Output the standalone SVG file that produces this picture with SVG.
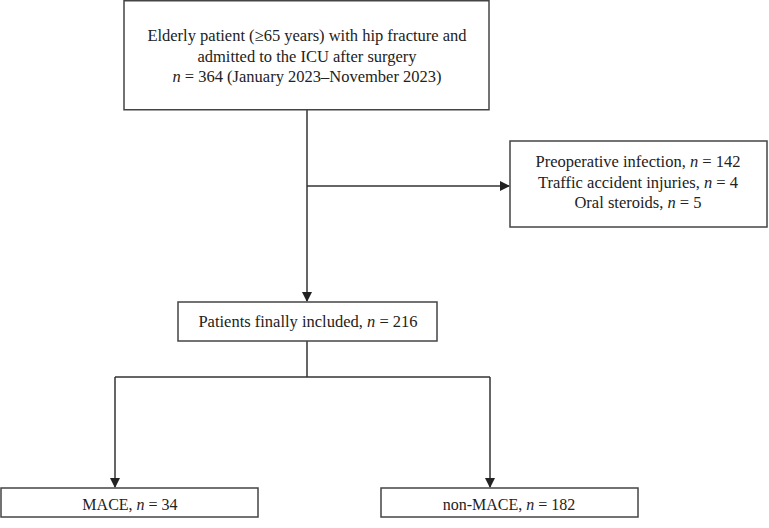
<svg xmlns="http://www.w3.org/2000/svg" width="769" height="528" viewBox="0 0 769 528">
<defs>
<marker id="arr" markerWidth="10" markerHeight="10" refX="9" refY="5" orient="auto" markerUnits="userSpaceOnUse"><path d="M0,0 L10,5 L0,10 Z" fill="#222"/></marker>
<style>
.box{fill:#fff;stroke:#444;stroke-width:1.5}
.ln{fill:none;stroke:#333;stroke-width:1.5}
text{font-family:"Liberation Serif","Times New Roman",serif;font-size:16.5px;fill:#222;text-anchor:middle}
.s{font-size:16px}
.i{font-style:italic}
</style>
</defs>
<rect width="769" height="528" fill="#fff"/>
<g id="connectors">
<path class="ln" d="M307,110 V301" marker-end="url(#arr)"/>
<path class="ln" d="M307,186 H509" marker-end="url(#arr)"/>
<path class="ln" d="M307,341 V377"/>
<path class="ln" d="M115,377 H490"/>
<path class="ln" d="M115,377 V487" marker-end="url(#arr)"/>
<path class="ln" d="M490,377 V487" marker-end="url(#arr)"/>
</g>
<g id="n1">
<rect class="box" x="124" y="0.75" width="365" height="109"/>
<text x="307" y="41">Elderly patient (≥65 years) with hip fracture and</text>
<text x="307" y="62">admitted to the ICU after surgery</text>
<text x="307" y="82"><tspan class="i">n</tspan> = 364 (January 2023–November 2023)</text>
</g>
<g id="n2">
<rect class="box" x="510" y="141" width="257" height="86"/>
<text x="638" y="167">Preoperative infection, <tspan class="i">n</tspan> = 142</text>
<text x="638" y="188">Traffic accident injuries, <tspan class="i">n</tspan> = 4</text>
<text x="638" y="208">Oral steroids, <tspan class="i">n</tspan> = 5</text>
</g>
<g id="n3">
<rect class="box" x="178" y="302" width="259" height="39"/>
<text x="308" y="327">Patients finally included, <tspan class="i">n</tspan> = 216</text>
</g>
<g id="n4">
<rect class="box" x="1" y="488" width="257" height="29"/>
<text class="s" x="130" y="510">MACE, <tspan class="i">n</tspan> = 34</text>
</g>
<g id="n5">
<rect class="box" x="381" y="488" width="257" height="29"/>
<text class="s" x="509" y="510">non-MACE, <tspan class="i">n</tspan> = 182</text>
</g>
</svg>
